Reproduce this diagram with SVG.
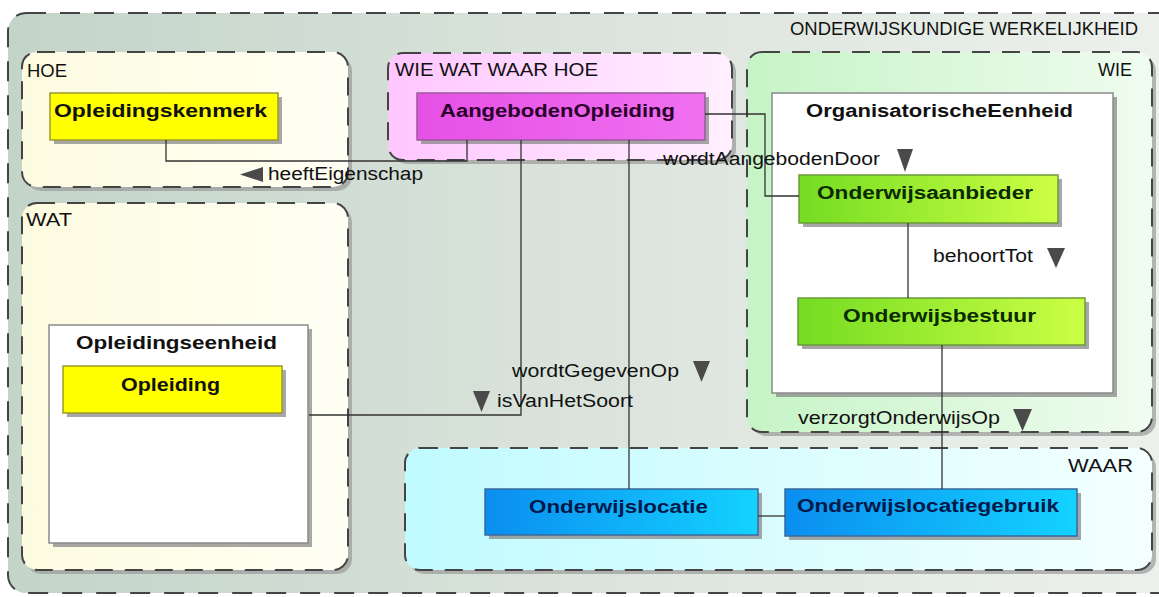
<svg xmlns="http://www.w3.org/2000/svg" width="1159" height="597" viewBox="0 0 1159 597">
<defs>
<linearGradient id="gOuter" x1="0" y1="0" x2="1" y2="0">
<stop offset="0" stop-color="#c3d4c9"/><stop offset="0.5" stop-color="#dbe4dc"/><stop offset="1" stop-color="#edf1ed"/>
</linearGradient>
<linearGradient id="gCream" x1="0" y1="0" x2="1" y2="0">
<stop offset="0" stop-color="#fdfbe0"/><stop offset="1" stop-color="#fffff4"/>
</linearGradient>
<linearGradient id="gPink" x1="0" y1="0" x2="1" y2="0">
<stop offset="0" stop-color="#ffc6ff"/><stop offset="1" stop-color="#fff0ff"/>
</linearGradient>
<linearGradient id="gGreenGrp" x1="0" y1="0" x2="1" y2="0">
<stop offset="0" stop-color="#c6f4c6"/><stop offset="1" stop-color="#f0fcf0"/>
</linearGradient>
<linearGradient id="gCyan" x1="0" y1="0" x2="1" y2="0">
<stop offset="0" stop-color="#c0fbff"/><stop offset="1" stop-color="#f4ffff"/>
</linearGradient>
<linearGradient id="gMag" x1="0" y1="0" x2="1" y2="0">
<stop offset="0" stop-color="#e650e6"/><stop offset="1" stop-color="#f070f0"/>
</linearGradient>
<linearGradient id="gGreen" x1="0" y1="0" x2="1" y2="0">
<stop offset="0" stop-color="#74dc22"/><stop offset="1" stop-color="#ccff44"/>
</linearGradient>
<linearGradient id="gBlue" x1="0" y1="0" x2="1" y2="0">
<stop offset="0" stop-color="#0a8ef0"/><stop offset="1" stop-color="#14d2ff"/>
</linearGradient>
<style>
.grp{stroke:#444;stroke-width:2;stroke-dasharray:18 12}
.gsh{fill:#9a9a9a;opacity:0.7}
.nsh{fill:#8a8a8a;opacity:0.75}
.lbl{font-family:"Liberation Sans",Arial,sans-serif;font-size:18px;fill:#111}
.ttl{font-family:"Liberation Sans",Arial,sans-serif;font-size:18px;font-weight:bold}
.con{fill:none;stroke:#333;stroke-width:1.3}
.tri{fill:#4a4a4a}
.white{fill:#fff;stroke:#8a8a8a;stroke-width:1.5}
</style>
</defs>
<rect width="1159" height="597" fill="#fff"/>

<g id="werkelijkheid">
<rect x="8" y="13" width="1175" height="580" rx="18" fill="url(#gOuter)" stroke="#444" stroke-width="2" stroke-dasharray="20 14"/>
<text class="lbl" x="790" y="35" textLength="348" lengthAdjust="spacingAndGlyphs">ONDERWIJSKUNDIGE WERKELIJKHEID</text>
</g>

<g id="hoe">
<rect class="gsh" x="26" y="56" width="326" height="135" rx="15"/>
<rect class="grp" x="22" y="52" width="326" height="135" rx="15" fill="url(#gCream)"/>
<text class="lbl" x="27" y="77" textLength="40" lengthAdjust="spacingAndGlyphs">HOE</text>
</g>

<g id="wat">
<rect class="gsh" x="26" y="207" width="326" height="367" rx="15"/>
<rect class="grp" x="22" y="203" width="326" height="367" rx="15" fill="url(#gCream)"/>
<text class="lbl" x="26" y="226" textLength="46" lengthAdjust="spacingAndGlyphs">WAT</text>
</g>

<g id="wiewatwaarhoe">
<rect class="gsh" x="392" y="57" width="344" height="107" rx="15"/>
<rect class="grp" x="388" y="53" width="344" height="107" rx="15" fill="url(#gPink)"/>
<text class="lbl" x="395" y="76" textLength="203" lengthAdjust="spacingAndGlyphs">WIE WAT WAAR HOE</text>
</g>

<g id="wie">
<rect class="gsh" x="751" y="56" width="405" height="380" rx="15"/>
<rect class="grp" x="747" y="52" width="405" height="380" rx="15" fill="url(#gGreenGrp)"/>
<text class="lbl" x="1098" y="76" textLength="34" lengthAdjust="spacingAndGlyphs">WIE</text>
</g>

<g id="waar">
<rect class="gsh" x="409" y="452" width="747" height="122" rx="15"/>
<rect class="grp" x="405" y="448" width="747" height="122" rx="15" fill="url(#gCyan)"/>
<text class="lbl" x="1068" y="472" textLength="65" lengthAdjust="spacingAndGlyphs">WAAR</text>
</g>

<g id="opleidingskenmerk">
<rect class="nsh" x="54" y="97" width="228" height="47"/>
<rect x="50" y="93" width="228" height="47" fill="#ffff00" stroke="#9a9a30" stroke-width="1.5"/>
<text class="ttl" x="54" y="117" fill="#111" textLength="213" lengthAdjust="spacingAndGlyphs">Opleidingskenmerk</text>
</g>

<g id="aangebodenopleiding">
<rect class="nsh" x="421" y="97" width="288" height="47"/>
<rect x="417" y="93" width="288" height="47" fill="url(#gMag)" stroke="#9a5a9a" stroke-width="1.5"/>
<text class="ttl" x="440" y="117" fill="#2a002a" textLength="235" lengthAdjust="spacingAndGlyphs">AangebodenOpleiding</text>
</g>

<g id="organisatorischeeenheid">
<rect class="nsh" x="776" y="97" width="341" height="300"/>
<rect class="white" x="772" y="93" width="341" height="300"/>
<text class="ttl" x="806" y="117" fill="#111" textLength="267" lengthAdjust="spacingAndGlyphs">OrganisatorischeEenheid</text>
</g>

<g id="onderwijsaanbieder">
<rect class="nsh" x="803" y="179" width="259" height="48"/>
<rect x="799" y="175" width="259" height="48" fill="url(#gGreen)" stroke="#6a9a3a" stroke-width="1.5"/>
<text class="ttl" x="817" y="199" fill="#0a2a00" textLength="216" lengthAdjust="spacingAndGlyphs">Onderwijsaanbieder</text>
</g>

<g id="onderwijsbestuur">
<rect class="nsh" x="802" y="302" width="287" height="47"/>
<rect x="798" y="298" width="287" height="47" fill="url(#gGreen)" stroke="#6a9a3a" stroke-width="1.5"/>
<text class="ttl" x="843" y="322" fill="#0a2a00" textLength="193" lengthAdjust="spacingAndGlyphs">Onderwijsbestuur</text>
</g>

<g id="opleidingseenheid">
<rect class="nsh" x="53" y="329" width="259" height="218"/>
<rect class="white" x="49" y="325" width="259" height="218"/>
<text class="ttl" x="76" y="349" fill="#111" textLength="201" lengthAdjust="spacingAndGlyphs">Opleidingseenheid</text>
</g>

<g id="opleiding">
<rect class="nsh" x="67" y="370" width="219" height="47"/>
<rect x="63" y="366" width="219" height="47" fill="#ffff00" stroke="#9a9a30" stroke-width="1.5"/>
<text class="ttl" x="121" y="391" fill="#111" textLength="99" lengthAdjust="spacingAndGlyphs">Opleiding</text>
</g>

<g id="onderwijslocatie">
<rect class="nsh" x="489" y="493" width="273" height="46"/>
<rect x="485" y="489" width="273" height="46" fill="url(#gBlue)" stroke="#3a6a9a" stroke-width="1.5"/>
<text class="ttl" x="529" y="513" fill="#00184a" textLength="179" lengthAdjust="spacingAndGlyphs">Onderwijslocatie</text>
</g>

<g id="onderwijslocatiegebruik">
<rect class="nsh" x="789" y="493" width="292" height="47"/>
<rect x="785" y="489" width="292" height="47" fill="url(#gBlue)" stroke="#3a6a9a" stroke-width="1.5"/>
<text class="ttl" x="797" y="512" fill="#00184a" textLength="262" lengthAdjust="spacingAndGlyphs">Onderwijslocatiegebruik</text>
</g>

<g id="connectors">
<polyline class="con" points="166,140 166,161 467,161 467,140"/>
<polyline class="con" points="521,140 521,415 309,415"/>
<polyline class="con" points="629,140 629,489"/>
<polyline class="con" points="705,114 765,114 765,196 799,196"/>
<polyline class="con" points="908,223 908,298"/>
<polyline class="con" points="942,345 942,489"/>
<polyline class="con" points="758,516 785,516"/>
<path class="tri" d="M240,174.5 L263,167 L263,182 Z"/>
<text class="lbl" x="268" y="180" textLength="155" lengthAdjust="spacingAndGlyphs">heeftEigenschap</text>
<path class="tri" d="M897,149 L913,149 L905,172 Z"/>
<text class="lbl" x="663" y="165" textLength="217" lengthAdjust="spacingAndGlyphs">wordtAangebodenDoor</text>
<path class="tri" d="M1047,248 L1065,248 L1056,268 Z"/>
<text class="lbl" x="933" y="262" textLength="100" lengthAdjust="spacingAndGlyphs">behoortTot</text>
<path class="tri" d="M1013,409 L1032,409 L1022.5,431 Z"/>
<text class="lbl" x="798" y="424" textLength="202" lengthAdjust="spacingAndGlyphs">verzorgtOnderwijsOp</text>
<path class="tri" d="M693,361 L710,361 L701.5,382 Z"/>
<text class="lbl" x="512" y="377" textLength="167" lengthAdjust="spacingAndGlyphs">wordtGegevenOp</text>
<path class="tri" d="M473,391 L490,391 L481.5,412 Z"/>
<text class="lbl" x="497" y="407" textLength="136" lengthAdjust="spacingAndGlyphs">isVanHetSoort</text>
</g>
</svg>
